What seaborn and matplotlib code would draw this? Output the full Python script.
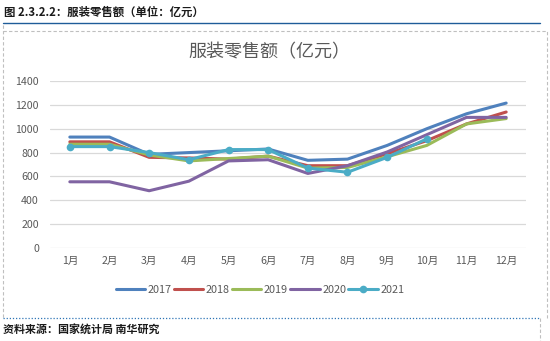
import matplotlib
matplotlib.use("Agg")
import matplotlib.pyplot as plt
import seaborn as sns
import pandas as pd
from matplotlib.lines import Line2D

months = ['1月', '2月', '3月', '4月', '5月', '6月', '7月', '8月', '9月', '10月', '11月', '12月']
years = ['2017', '2018', '2019', '2020', '2021']
v2017 = [930, 930, 785, 800, 815, 830, 735, 745, 860, 1000, 1125, 1215]
v2018 = [890, 890, 760, 755, 745, 770, 690, 690, 790, 900, 1040, 1140]
v2019 = [870, 870, 780, 730, 750, 770, 670, 675, 765, 860, 1040, 1085]
v2020 = [555, 555, 480, 560, 730, 740, 625, 690, 805, 950, 1095, 1095]
v2021 = [850, 850, 800, 740, 825, 825, 670, 635, 760, 915]
yticks = [0, 200, 400, 600, 800, 1000, 1200, 1400]

series = {'2017': v2017, '2018': v2018, '2019': v2019, '2020': v2020, '2021': v2021}
rows = []
for y, vals in series.items():
    for i, v in enumerate(vals):
        rows.append({'idx': i, 'value': v, 'year': y})
df = pd.DataFrame(rows)

sns.set_theme(style="white")
plt.rcParams['font.family'] = ['Noto Sans CJK SC', 'DejaVu Sans']

colors = {'2017': '#4F81BD', '2018': '#C0504D', '2019': '#9BBB59', '2020': '#8064A2', '2021': '#4BACC6'}

W, H = 550, 341
fig = plt.figure(figsize=(W / 100, H / 100), dpi=100)
fig.patch.set_facecolor('white')

def fx(px):
    return px / W

def fy(py):
    return 1 - py / H

ax = fig.add_axes([fx(50), fy(248), fx(526) - fx(50), fy(81) - fy(248)])
for y in years:
    d = df[df['year'] == y]
    if y == '2021':
        sns.lineplot(data=d, x='idx', y='value', ax=ax, color=colors[y], lw=2.2,
                     marker='o', markersize=5.5, markeredgewidth=0, label=y)
    else:
        sns.lineplot(data=d, x='idx', y='value', ax=ax, color=colors[y], lw=2.2, label=y)

ax.set_xlim(-0.5, 11.5)
ax.set_ylim(0, 1400)
ax.set_yticks(yticks)
ax.set_yticklabels([str(t) for t in yticks])
ax.set_xticks(range(len(months)))
ax.set_xticklabels(months)
ax.set_xlabel('')
ax.set_ylabel('')
for s in ax.spines.values():
    s.set_visible(False)
ax.grid(axis='y', color='#D9D9D9', lw=0.9)
ax.set_axisbelow(True)
ax.tick_params(axis='both', length=0, labelsize=7.6, colors='#595959', pad=6)
ax.tick_params(axis='y', pad=8)
ax.get_legend().remove()

handles = []
for y in years:
    if y == '2021':
        handles.append(Line2D([], [], color=colors[y], lw=2.2, marker='o', markersize=5.5, markeredgewidth=0))
    else:
        handles.append(Line2D([], [], color=colors[y], lw=2.2))
fig.legend(handles, years, loc='center', bbox_to_anchor=(fx(260), fy(290)), ncol=5,
           frameon=False, fontsize=7.8, handlelength=2.7, handletextpad=0.25, columnspacing=0.2,
           labelcolor='#595959')

fig.text(fx(269), fy(52), '服装零售额（亿元）', ha='center', va='center', fontsize=13, color='#595959')

# header
fig.text(fx(4), fy(12), '图 2.3.2.2：服装零售额（单位：亿元）', ha='left', va='center',
         fontsize=8.2, fontweight='bold', color='#1a1a1a')
fig.add_artist(Line2D([fx(3), fx(540)], [fy(23), fy(23)], color='#1F5C99', lw=1.0))
# dashed chart frame
fig.add_artist(Line2D([fx(3), fx(547), fx(547)], [fy(31), fy(31), fy(318)], color='#BFBFBF', lw=0.8, ls=(0, (3, 2))))
fig.add_artist(Line2D([fx(3), fx(3)], [fy(25), fy(318)], color='#BFBFBF', lw=0.8, ls=(0, (3, 2))))
fig.add_artist(Line2D([fx(3), fx(540)], [fy(318), fy(318)], color='#2E75B6', lw=0.9, ls=(0, (1, 1.5))))
fig.add_artist(Line2D([fx(540), fx(540)], [fy(318), fy(341)], color='#BFBFBF', lw=0.8, ls=(0, (3, 2))))
# source
fig.text(fx(3), fy(330), '资料来源：国家统计局 南华研究', ha='left', va='center',
         fontsize=7.9, fontweight='bold', color='#1a1a1a')

fig.savefig('out.png', dpi=100, facecolor='white')
